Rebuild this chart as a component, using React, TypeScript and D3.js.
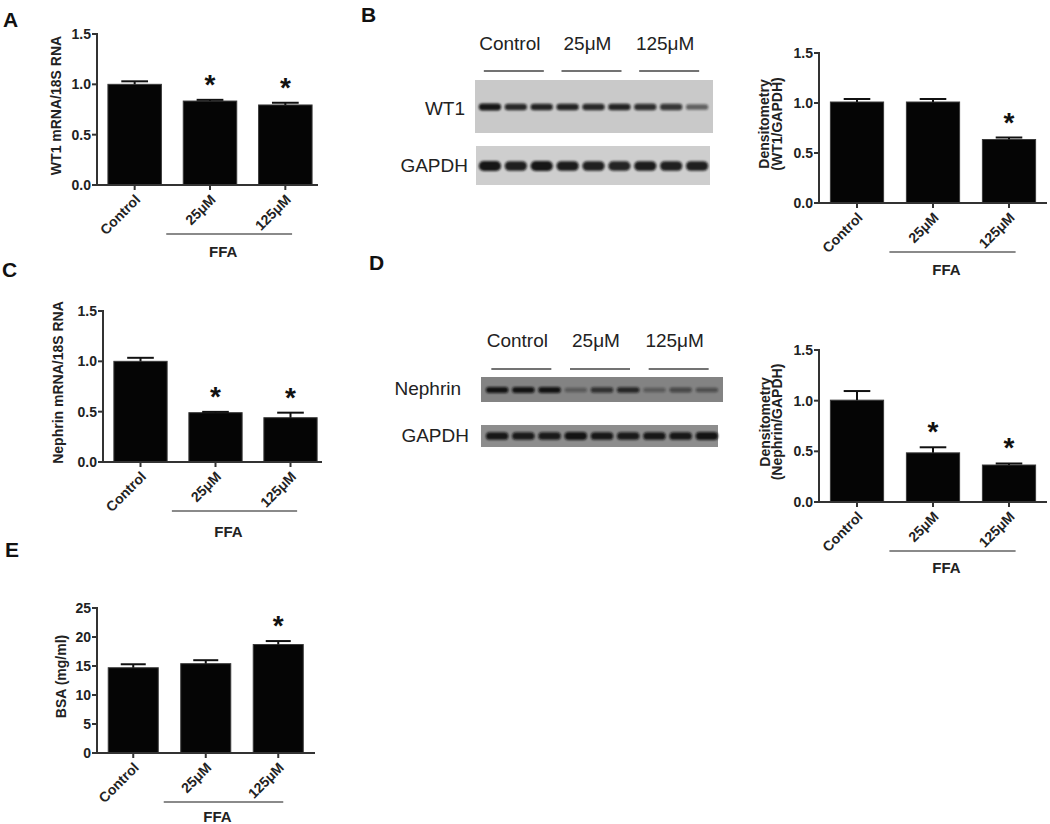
import React from "react";
import * as d3 from "d3";

const FONT = "'Liberation Sans', Arial, Helvetica, sans-serif";

// ---- data ----
const groups = ["Control", "25μM", "125μM"];
const ticks15 = [0, 0.5, 1.0, 1.5];
const ticks25 = [0, 5, 10, 15, 20, 25];

const wt1Mrna = [1.0, 0.834, 0.795];
const wt1MrnaErr = [0.03, 0.012, 0.022];
const wt1MrnaSig = [false, true, true];

const wt1Dens = [1.01, 1.01, 0.635];
const wt1DensErr = [0.03, 0.03, 0.02];
const wt1DensSig = [false, false, true];

const nephrinMrna = [1.0, 0.49, 0.44];
const nephrinMrnaErr = [0.035, 0.008, 0.05];
const nephrinMrnaSig = [false, true, true];

const nephrinDens = [1.005, 0.485, 0.365];
const nephrinDensErr = [0.09, 0.055, 0.015];
const nephrinDensSig = [false, true, true];

const bsa = [14.7, 15.4, 18.7];
const bsaErr = [0.6, 0.6, 0.6];
const bsaSig = [false, false, true];

const lanes = [1, 2, 3, 4, 5, 6, 7, 8, 9];
const wt1Bands = [0.95, 0.85, 0.88, 0.88, 0.85, 0.88, 0.82, 0.78, 0.55];
const gapdhBBands = [0.95, 0.9, 0.95, 0.92, 0.9, 0.88, 0.92, 0.9, 0.9];
const nephrinBands = [0.95, 0.95, 0.95, 0.35, 0.7, 0.8, 0.35, 0.5, 0.45];
const gapdhDBands = [0.92, 0.9, 0.9, 0.95, 0.92, 0.9, 0.92, 0.92, 0.95];

type PanelCfg = {
  values: number[];
  errs: number[];
  sig: boolean[];
  xRange: [number, number];
  axisEnd: number;
  y0: number;
  yTop: number;
  yMax: number;
  ticks: number[];
  fmt: (n: number) => string;
  yLabel: string[];
  yLabelX: number[];
  pad: number;
  ffaBase: number;
};

function BarPanel({ cfg }: { cfg: PanelCfg }) {
  const x = d3
    .scaleBand<string>()
    .domain(groups)
    .range(cfg.xRange)
    .paddingInner(cfg.pad)
    .paddingOuter(cfg.pad / 2);
  const y = d3.scaleLinear().domain([0, cfg.yMax]).range([cfg.y0, cfg.yTop]);
  const bw = x.bandwidth();
  const ax = cfg.xRange[0];
  const cap = bw * 0.5;
  const ffaStart = (x("25μM") as number) - 17;
  const ffaEnd = (x("125μM") as number) + bw - 20;
  const ffaMid = (ffaStart + ffaEnd) / 2 - 6;
  const yMid = (cfg.y0 + cfg.yTop) / 2 - 4;
  return (
    <g fontFamily={FONT} fontWeight="bold">
      {cfg.values.map((v, i) => {
        const g = groups[i];
        const bx = x(g) as number;
        const cx = bx + bw / 2;
        const top = y(v + cfg.errs[i]);
        return (
          <g key={g}>
            <rect x={bx} y={y(v)} width={bw} height={cfg.y0 - y(v)} fill="#050505" stroke="#3a3a3a" strokeWidth={1} />
            <line x1={cx} x2={cx} y1={y(v)} y2={top} stroke="#111" strokeWidth={2} />
            <line x1={cx - cap / 2} x2={cx + cap / 2} y1={top} y2={top} stroke="#111" strokeWidth={2} />
            {cfg.sig[i] && (
              <text x={cx} y={top - 6} textAnchor="middle" fontSize={28} fill="#111">
                *
              </text>
            )}
            <line x1={cx} x2={cx} y1={cfg.y0} y2={cfg.y0 + 5} stroke="#333" strokeWidth={2} />
            <text
              transform={`translate(${cx + 3},${cfg.y0 + 12}) rotate(-45)`}
              textAnchor="end"
              dy="0.35em"
              fontSize={14}
              fill="#222"
            >
              {g}
            </text>
          </g>
        );
      })}
      <line x1={ax} x2={ax} y1={y(cfg.yMax) - 1} y2={cfg.y0} stroke="#333" strokeWidth={2} />
      <line x1={ax - 1} x2={cfg.axisEnd} y1={cfg.y0} y2={cfg.y0} stroke="#333" strokeWidth={2} />
      {cfg.ticks.map((t) => (
        <g key={t}>
          <line x1={ax - 5} x2={ax} y1={y(t)} y2={y(t)} stroke="#333" strokeWidth={2} />
          <text x={ax - 6} y={y(t)} dy="0.35em" textAnchor="end" fontSize={14} fill="#222">
            {cfg.fmt(t)}
          </text>
        </g>
      ))}
      {cfg.yLabel.map((l, i) => (
        <text
          key={l}
          transform={`translate(${cfg.yLabelX[i]},${yMid}) rotate(-90)`}
          textAnchor="middle"
          dy="0.35em"
          fontSize={14}
          fill="#222"
        >
          {l}
        </text>
      ))}
      <line x1={ffaStart} x2={ffaEnd} y1={cfg.y0 + 49} y2={cfg.y0 + 49} stroke="#8a8a8a" strokeWidth={2} />
      <text x={ffaMid} y={cfg.y0 + cfg.ffaBase} textAnchor="middle" fontSize={15} fill="#222">
        FFA
      </text>
    </g>
  );
}

type BlotRow = {
  label: string;
  labelRight: number;
  labelBaseline: number;
  box: [number, number, number, number];
  bg: string;
  bands: number[];
  bandY: number;
  bandH: number;
};

function Blot({
  rows,
  laneRange,
  headerBaseline,
  lineY,
  lineShift,
}: {
  rows: BlotRow[];
  laneRange: [number, number];
  headerBaseline: number;
  lineY: number;
  lineShift: number;
}) {
  const lx = d3.scaleBand<number>().domain(lanes).range(laneRange);
  const step = lx.step();
  const groupCenters = groups.map((_, gi) => {
    const c = lanes.slice(gi * 3, gi * 3 + 3).map((l) => (lx(l) as number) + step / 2);
    return d3.mean(c) as number;
  });
  return (
    <g fontFamily={FONT} fill="#222">
      {groups.map((g, gi) => (
        <g key={g}>
          <text x={groupCenters[gi] + lineShift - 4} y={headerBaseline} textAnchor="middle" fontSize={19}>
            {g}
          </text>
          <line
            x1={groupCenters[gi] + lineShift - 30}
            x2={groupCenters[gi] + lineShift + 30}
            y1={lineY}
            y2={lineY}
            stroke="#444"
            strokeWidth={1.6}
          />
        </g>
      ))}
      {rows.map((r) => (
        <g key={r.label + r.bandY}>
          <text x={r.labelRight} y={r.labelBaseline} textAnchor="end" fontSize={19}>
            {r.label}
          </text>
          <rect x={r.box[0]} y={r.box[1]} width={r.box[2] - r.box[0]} height={r.box[3] - r.box[1]} fill={r.bg} filter="url(#soft)" />
          {r.bands.map((b, i) => {
            const cx = (lx(lanes[i]) as number) + step / 2;
            const w = step * 0.86;
            const h = r.bandH * (0.6 + 0.4 * b);
            return (
              <rect
                key={i}
                x={cx - w / 2}
                y={r.bandY - h / 2}
                width={w}
                height={h}
                rx={h / 2}
                fill="#0c0c0c"
                opacity={b}
                filter="url(#band)"
              />
            );
          })}
        </g>
      ))}
    </g>
  );
}

export default function App() {
  const f1 = d3.format(".1f");
  const f0 = d3.format("d");
  const panelA: PanelCfg = {
    values: wt1Mrna, errs: wt1MrnaErr, sig: wt1MrnaSig,
    xRange: [97, 323], axisEnd: 318, y0: 185, yTop: 34, yMax: 1.5,
    ticks: ticks15, fmt: f1, yLabel: ["WT1 mRNA/18S RNA"], yLabelX: [56], pad: 0.29, ffaBase: 72,
  };
  const panelB: PanelCfg = {
    values: wt1Dens, errs: wt1DensErr, sig: wt1DensSig,
    xRange: [819, 1047], axisEnd: 1047, y0: 203, yTop: 53, yMax: 1.5,
    ticks: ticks15, fmt: f1, yLabel: ["Densitometry", "(WT1/GAPDH)"], yLabelX: [764, 777], pad: 0.3, ffaBase: 72,
  };
  const panelC: PanelCfg = {
    values: nephrinMrna, errs: nephrinMrnaErr, sig: nephrinMrnaSig,
    xRange: [103, 328], axisEnd: 322, y0: 462, yTop: 311, yMax: 1.5,
    ticks: ticks15, fmt: f1, yLabel: ["Nephrin mRNA/18S RNA"], yLabelX: [58], pad: 0.29, ffaBase: 75,
  };
  const panelD: PanelCfg = {
    values: nephrinDens, errs: nephrinDensErr, sig: nephrinDensSig,
    xRange: [819, 1047], axisEnd: 1047, y0: 502, yTop: 350, yMax: 1.5,
    ticks: ticks15, fmt: f1, yLabel: ["Densitometry", "(Nephrin/GAPDH)"], yLabelX: [765, 777], pad: 0.3, ffaBase: 71,
  };
  const panelE: PanelCfg = {
    values: bsa, errs: bsaErr, sig: bsaSig,
    xRange: [97, 314.5], axisEnd: 315, y0: 753, yTop: 608, yMax: 25,
    ticks: ticks25, fmt: f0, yLabel: ["BSA (mg/ml)"], yLabelX: [61], pad: 0.31, ffaBase: 69,
  };

  const blotB: BlotRow[] = [
    { label: "WT1", labelRight: 465, labelBaseline: 115, box: [475, 80, 713, 133], bg: "#c9c9c9", bands: wt1Bands, bandY: 107, bandH: 7 },
    { label: "GAPDH", labelRight: 468, labelBaseline: 172, box: [476, 146, 710, 185], bg: "#cecece", bands: gapdhBBands, bandY: 166, bandH: 10 },
  ];
  const blotD: BlotRow[] = [
    { label: "Nephrin", labelRight: 461, labelBaseline: 395, box: [481, 377, 723, 402], bg: "#838383", bands: nephrinBands, bandY: 390, bandH: 6 },
    { label: "GAPDH", labelRight: 469, labelBaseline: 442, box: [481, 425, 718, 447], bg: "#8d8d8d", bands: gapdhDBands, bandY: 436, bandH: 8 },
  ];

  const letters = [
    { t: "A", x: 3, y: 27 },
    { t: "B", x: 361, y: 22 },
    { t: "C", x: 2, y: 277 },
    { t: "D", x: 369, y: 270 },
    { t: "E", x: 5, y: 557 },
  ];

  return (
    <svg width={1050} height={824} style={{ position: "absolute", left: 0, top: 0, background: "#fff" }}>
      <defs>
        <filter id="band" x="-20%" y="-100%" width="140%" height="300%">
          <feGaussianBlur stdDeviation="1.1" />
        </filter>
        <filter id="soft" x="-2%" y="-10%" width="104%" height="120%">
          <feGaussianBlur stdDeviation="0.6" />
        </filter>
      </defs>
      <rect width={1050} height={824} fill="#fff" />
      {letters.map((l) => (
        <text key={l.t} x={l.x} y={l.y} fontFamily={FONT} fontWeight="bold" fontSize={21} fill="#111">
          {l.t}
        </text>
      ))}
      <BarPanel cfg={panelA} />
      <BarPanel cfg={panelB} />
      <BarPanel cfg={panelC} />
      <BarPanel cfg={panelD} />
      <BarPanel cfg={panelE} />
      <Blot rows={blotB} laneRange={[477, 710]} headerBaseline={50} lineY={71} lineShift={-2} />
      <Blot rows={blotD} laneRange={[484, 720]} headerBaseline={347} lineY={369} lineShift={-2} />
    </svg>
  );
}
